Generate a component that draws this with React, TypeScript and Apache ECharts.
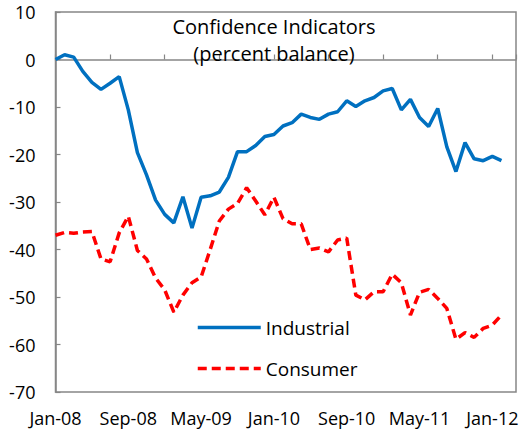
import React, { useEffect, useRef } from "react";
import * as echarts from "echarts";

const months: string[] = [
  "Jan-08", "Feb-08", "Mar-08", "Apr-08", "May-08", "Jun-08", "Jul-08", "Aug-08", "Sep-08", "Oct-08", "Nov-08", "Dec-08",
  "Jan-09", "Feb-09", "Mar-09", "Apr-09", "May-09", "Jun-09", "Jul-09", "Aug-09", "Sep-09", "Oct-09", "Nov-09", "Dec-09",
  "Jan-10", "Feb-10", "Mar-10", "Apr-10", "May-10", "Jun-10", "Jul-10", "Aug-10", "Sep-10", "Oct-10", "Nov-10", "Dec-10",
  "Jan-11", "Feb-11", "Mar-11", "Apr-11", "May-11", "Jun-11", "Jul-11", "Aug-11", "Sep-11", "Oct-11", "Nov-11", "Dec-11",
  "Jan-12", "Feb-12",
];

const industrial: number[] = [
  0, 1.0, 0.5, -2.5, -4.8, -6.3, -5.0, -3.6, -10.6, -19.6,
  -24.3, -29.6, -32.6, -34.4, -28.9, -35.5, -29.0, -28.7, -27.9, -24.8,
  -19.4, -19.4, -18.1, -16.2, -15.8, -14.0, -13.3, -11.5, -12.2, -12.6,
  -11.5, -11.0, -8.7, -9.9, -8.7, -8.0, -6.6, -6.1, -10.6, -8.4,
  -12.2, -14.1, -10.3, -18.4, -23.6, -17.5, -20.9, -21.3, -20.4, -21.3,
];

const consumer: number[] = [
  -37.0, -36.4, -36.6, -36.3, -36.2, -42.0, -42.6, -36.5, -33.0, -40.2,
  -42.0, -46.0, -48.5, -53.2, -49.6, -47.0, -45.8, -40.0, -34.0, -31.5,
  -30.3, -27.0, -29.8, -32.7, -29.0, -33.5, -34.6, -34.6, -40.0, -39.7,
  -40.5, -38.0, -37.6, -49.6, -50.6, -48.9, -48.9, -45.2, -47.0, -53.8,
  -49.0, -48.4, -50.3, -52.4, -58.9, -57.5, -58.5, -56.6, -55.9, -53.8,
];

const yTicks = { min: -70, max: 10, step: 10 };
const titleLines = ["Confidence Indicators", "(percent balance)"];
const seriesNames = ["Industrial", "Consumer"];

const FONT = "Open Sans";
const AXIS_GRAY = "#868686";

export default function App() {
  const ref = useRef<HTMLDivElement>(null);
  useEffect(() => {
    if (!ref.current) return;
    const chart = echarts.init(ref.current, undefined, { renderer: "svg" });
    const xMax = 50.6;
    const fmt = (v: number) => {
      const i = Math.round(v);
      return Math.abs(v - i) < 1e-6 && months[i] ? months[i] : "";
    };
    chart.setOption({
      animation: false,
      backgroundColor: "#ffffff",
      textStyle: { fontFamily: FONT },
      title: {
        text: titleLines.join("\n"),
        left: 269,
        top: 8,
        textAlign: "center",
        textStyle: { fontFamily: FONT, fontSize: 20, fontWeight: "normal", color: "#000", lineHeight: 27 },
      },
      legend: {
        orient: "vertical",
        left: 191,
        top: 313,
        itemWidth: 63,
        itemHeight: 16,
        itemGap: 22,
        data: seriesNames,
        itemStyle: { opacity: 0 },
        lineStyle: { width: 3.5 },
        textStyle: { fontFamily: FONT, fontSize: 19, color: "#000" },
      },
      grid: {
        left: 55.5,
        right: 9,
        top: 12,
        bottom: 46,
        show: true,
        borderColor: AXIS_GRAY,
        borderWidth: 1.5,
        backgroundColor: "transparent",
      },
      xAxis: [
        {
          type: "value",
          min: 0,
          max: xMax,
          interval: 6,
          axisLine: { onZero: true, lineStyle: { color: AXIS_GRAY, width: 1.5 } },
          axisTick: { show: true, inside: true, length: 5, lineStyle: { color: AXIS_GRAY, width: 1.2 } },
          axisLabel: { show: false },
          splitLine: { show: false },
        },
        {
          type: "value",
          min: 0,
          max: xMax,
          interval: 8,
          position: "bottom",
          axisLine: { show: false, onZero: false },
          axisTick: { show: false },
          axisLabel: {
            show: true,
            margin: 17,
            formatter: fmt,
            fontFamily: FONT,
            fontSize: 18,
            color: "#000",
          },
          splitLine: { show: false },
        },
      ],
      yAxis: {
        type: "value",
        min: yTicks.min,
        max: yTicks.max,
        interval: yTicks.step,
        axisLine: { show: true, onZero: false, lineStyle: { color: AXIS_GRAY, width: 1.5 } },
        axisTick: { show: true, inside: true, length: 5, lineStyle: { color: AXIS_GRAY, width: 1.2 } },
        axisLabel: { margin: 20, fontFamily: FONT, fontSize: 18, color: "#000" },
        splitLine: { show: false },
      },
      series: [
        {
          name: seriesNames[0],
          type: "line",
          xAxisIndex: 0,
          symbol: "none",
          data: industrial.map((v, i) => [i, v]),
          lineStyle: { color: "#0070C0", width: 3.5 },
          itemStyle: { color: "#0070C0" },
          z: 3,
        },
        {
          name: seriesNames[1],
          type: "line",
          xAxisIndex: 0,
          symbol: "none",
          data: consumer.map((v, i) => [i, v]),
          lineStyle: { color: "#FF0000", width: 3.5, type: [9, 5] },
          itemStyle: { color: "#FF0000" },
          z: 2,
        },
      ],
    });
    return () => chart.dispose();
  }, []);
  return (
    <div
      ref={ref}
      style={{ position: "absolute", left: 0, top: 0, width: 525, height: 438 }}
    />
  );
}
